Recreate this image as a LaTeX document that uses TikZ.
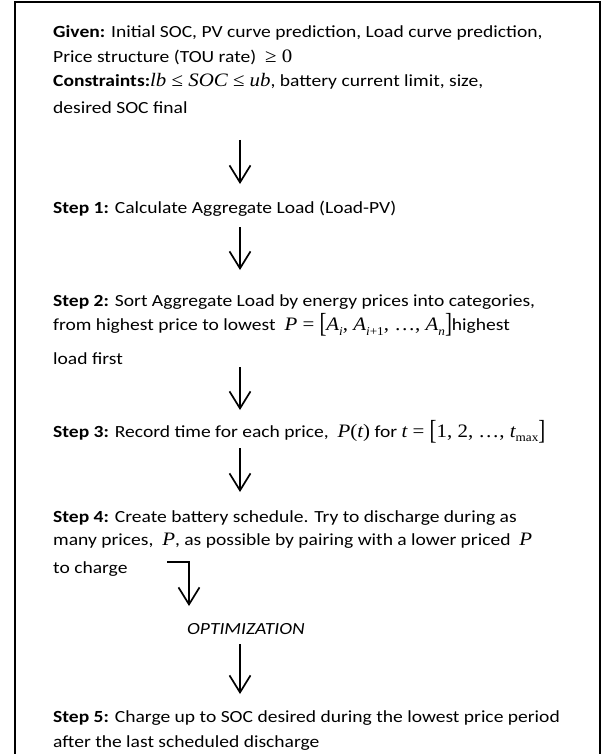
\documentclass[tikz,border=0pt]{standalone}
\usepackage{fontspec}
\usepackage{graphicx}
\setmainfont{Carlito}[FakeStretch=1.15]
\newfontfamily\tms{Liberation Serif}[FakeStretch=1.1]
\usetikzlibrary{arrows.meta, positioning}

% math pieces are set in a Times-like face, a bit larger than the text
\newcommand{\mth}[1]{{\tms\fontsize{19}{19}\selectfont #1}}
\newcommand{\mi}[1]{{\itshape #1}}
\newcommand{\sub}[1]{\raisebox{-0.25em}{\fontsize{12}{12}\selectfont #1}}
\newcommand{\brk}[1]{\raisebox{-0.12em}{\scalebox{1}[1.45]{#1}}}

\tikzset{
  txt/.style={anchor=base west, align=left, inner sep=0pt,
    font=\fontsize{17}{24.5}\selectfont},
  flow/.style={line width=1.7pt, -{Straight Barb[length=17pt,width=21pt]}},
  frame/.style={line width=2pt}
}

\begin{document}
\begin{tikzpicture}[x=1pt,y=-1pt]
\useasboundingbox (0,0) rectangle (605,754);
\draw[frame] (15,754) -- (15,2) -- (600,2) -- (600,754);

% each block sits on the baseline of its last line
\node[txt] (given) at (53,114) {\textbf{Given:} Initial SOC, PV curve prediction, Load curve prediction,\\
Price structure (TOU rate)\ \ \mth{≥ 0}\\
\textbf{Constraints:}\mth{\mi{lb} ≤ \mi{SOC} ≤ \mi{ub}}, battery current limit, size,\\[2.5pt]
desired SOC final};

\node[txt] (step1) at (53,213) {\textbf{Step 1:} Calculate Aggregate Load (Load-PV)};

\node[txt] (step2) at (53,364) {\textbf{Step 2:} Sort Aggregate Load by energy prices into categories,\\
from highest price to lowest\ \ \mth{\mi{P} = \brk{[}\mi{A}\sub{\mi{i}}, \mi{A}\sub{\mi{i}+1}, …, \mi{A}\sub{\mi{n}}\brk{]}}highest\\[9pt]
load first};

\node[txt] (step3) at (53,437) {\textbf{Step 3:} Record time for each price,\ \ \mth{\mi{P}(\mi{t})} for \mth{\mi{t} = \brk{[}1, 2, …, \mi{t}\sub{max}\brk{]}}};

\node[txt] (step4) at (53,573) {\textbf{Step 4:} Create battery schedule. Try to discharge during as\\[-1pt]
many prices,\ \ \mth{\mi{P}}, as possible by pairing with a lower priced\ \ \mth{\mi{P}}\\[3pt]
to charge};

\node[txt, font=\fontsize{17}{24.5}\selectfont\itshape] (optim) at (187,634) {OPTIMIZATION};

\node[txt] (step5) at (53,747) {\textbf{Step 5:} Charge up to SOC desired during the lowest price period\\
after the last scheduled discharge};

% arrows between the steps
\coordinate (a1) at (240,140); \coordinate (b1) at (240,184);
\coordinate (a2) at (240,227); \coordinate (b2) at (240,270);
\coordinate (a3) at (240,367); \coordinate (b3) at (240,410);
\coordinate (a4) at (240,448); \coordinate (b4) at (240,492);
\coordinate (a5) at (240,644); \coordinate (b5) at (240,694);
\foreach \i in {1,...,5}
  \draw[flow] (a\i) -- (b\i);

% bent arrow down to the optimization
\coordinate (c1) at (167,562); \coordinate (c2) at (189,606);
\draw[flow] (c1) -| (c2);
\end{tikzpicture}
\end{document}
